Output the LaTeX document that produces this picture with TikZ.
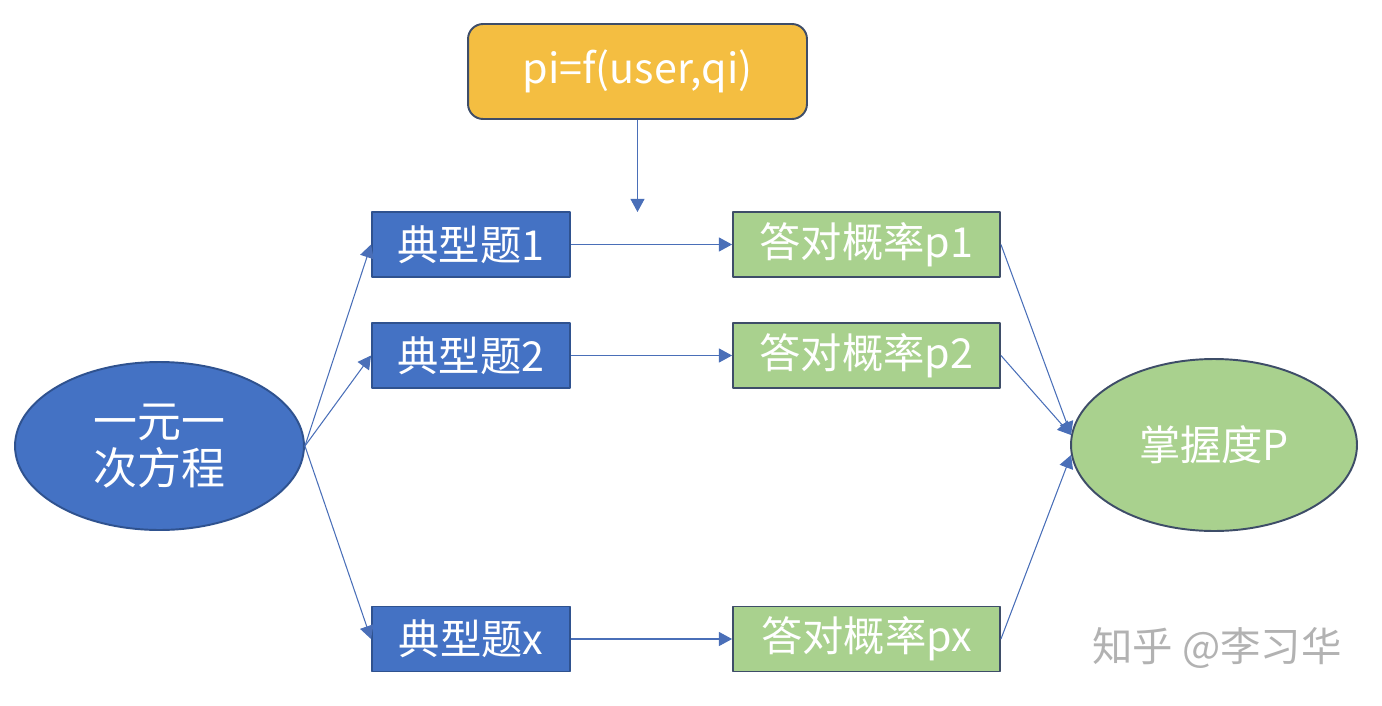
\documentclass[tikz,border=0pt]{standalone}
\usepackage{fontspec}
\setmainfont{Noto Sans CJK SC}
\usetikzlibrary{shapes.geometric,arrows.meta}
\definecolor{boxblue}{HTML}{4472C4}
\definecolor{edgeblue}{HTML}{2F528F}
\definecolor{boxgreen}{HTML}{A9D18E}
\definecolor{boxgold}{HTML}{F4BE41}
\definecolor{edgeslate}{HTML}{3E4D68}
\definecolor{linkblue}{HTML}{4A6FB8}
\begin{document}
\begin{tikzpicture}[x=0.02cm, y=-0.02cm, line join=round,
	txt/.style={text=white, font=\fontsize{23.5}{27}\selectfont},
	qbox/.style={txt, draw=edgeblue, fill=boxblue, line width=1.1pt, minimum width=3.96cm, minimum height=1.3cm, inner sep=0pt},
	abox/.style={txt, draw=edgeslate, fill=boxgreen, line width=1.1pt, minimum width=5.34cm, minimum height=1.3cm, inner sep=0pt},
	oval/.style={txt, ellipse, line width=1.1pt, inner sep=0pt, align=center},
	link/.style={draw=linkblue, line width=0.6pt, -{Triangle[width=8pt, length=7.5pt]}}]
	\useasboundingbox (0,0) rectangle (1382,706);
	% formula on top
	\node[txt, draw=edgeslate, fill=boxgold, line width=1.1pt, rounded corners=0.3cm, minimum width=6.78cm, minimum height=1.9cm] (fx) at (637.5,71.5) {pi=f(user,qi)};
	\coordinate (fxend) at (637.5,212);
	\draw[link] (fx.south) -- (fxend);
	% left and right ellipses
	\node[oval, draw=edgeblue, fill=boxblue, minimum width=5.78cm, minimum height=3.36cm, font=\fontsize{25}{27}\selectfont] (eq) at (159.5,446) {一元一\\次方程};
	\node[oval, draw=edgeslate, fill=boxgreen, minimum width=5.72cm, minimum height=3.44cm] (mp) at (1214,445) {掌握度P};
	% questions and probabilities
	\node[qbox] (q1) at (471,244.5) {典型题1};
	\node[qbox] (q2) at (471,355.5) {典型题2};
	\node[qbox] (qx) at (471,639) {典型题x};
	\node[abox] (p1) at (866.5,244.5) {答对概率p1};
	\node[abox] (p2) at (866.5,355.5) {答对概率p2};
	\node[abox] (px) at (866.5,639) {答对概率px};
	\foreach \i in {1,2,x} {
		\draw[link] (eq.east) -- (q\i.west);
		\draw[link] (q\i.east) -- (p\i.west);
	}
	\draw[link] (p1.east) -- (mp.176);
	\draw[link] (p2.east) -- (mp.176);
	\draw[link] (px.east) -- (mp.184);
	% watermark
	\node[text=black!30, font=\fontsize{23}{26}\selectfont] (mark) at (1217,648) {知乎 @李习华};
\end{tikzpicture}
\end{document}
